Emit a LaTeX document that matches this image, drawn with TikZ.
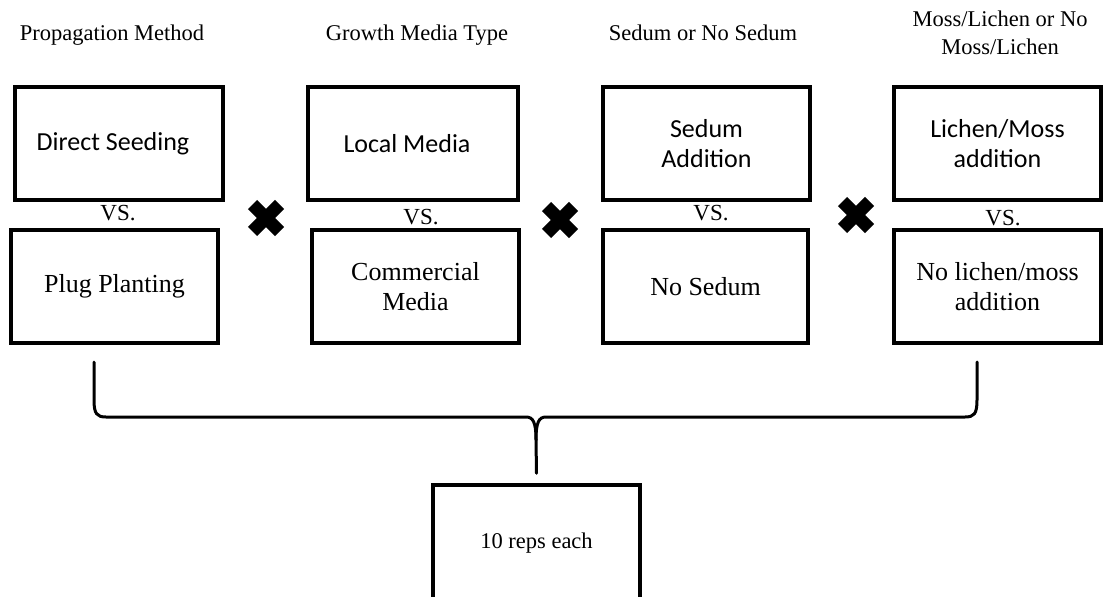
\documentclass[tikz,border=0pt]{standalone}
\usepackage{fontspec}
\setmainfont{Liberation Serif}
\newfontfamily\calibri{Carlito}

\tikzset{
  optbox/.style={draw, line width=3.5pt, minimum width=207pt, minimum height=113pt,
    align=center, inner sep=0pt},
  caltext/.style={font=\calibri\fontsize{26}{30}\selectfont},
  tmstext/.style={font=\fontsize{26}{30}\selectfont},
  title/.style={font=\fontsize{22.5}{28}\selectfont, align=center},
  vslabel/.style={font=\fontsize{23}{28}\selectfont, inner sep=0pt},
  bracket/.style={line width=3pt, line cap=round},
}

\begin{document}
\begin{tikzpicture}[x=1pt, y={(0pt,-1pt)}]
\useasboundingbox (0,0) rectangle (1103,597);

% Factor titles
\node[title, anchor=base] (prop) at (112,40) {Propagation Method};
\node[title, anchor=base] (media) at (417,40) {Growth Media Type};
\node[title, anchor=base] (sedum) at (703,40) {Sedum or No Sedum};
\node[title] (moss) at (1000,33) {Moss/Lichen or No\\Moss/Lichen};

% Upper option of each factor
\node[optbox, caltext, minimum width=208pt] (seed) at (119,143.5) {\hspace*{-12pt}Direct Seeding};
\node[optbox, caltext, minimum width=210pt] (local) at (413,143.5) {\hspace*{-12pt}Local Media};
\node[optbox, caltext] (sedadd) at (706.5,143.5) {Sedum\\Addition};
\node[optbox, caltext] (mossadd) at (997.5,143.5) {Lichen/Moss\\addition};

% Lower option of each factor
\node[optbox, tmstext] (plug) at (114.5,286.5) {Plug Planting};
\node[optbox, tmstext] (comm) at (415.5,286.5) {Commercial\\Media};
\node[optbox, tmstext, minimum width=205pt] (nosed) at (705.5,286.5) {No Sedum};
\node[optbox, tmstext] (nomoss) at (997.5,286.5) {No lichen/moss\\addition};

% vs. between the two options
\node[vslabel] (vs1) at (118,213) {VS.};
\node[vslabel] (vs2) at (421,217) {VS.};
\node[vslabel] (vs3) at (711,213) {VS.};
\node[vslabel] (vs4) at (1003,218) {VS.};

% Crosses between factors
\foreach \cx/\cy in {266/218, 560/220, 856/215} {
  \draw[line width=13pt] (\cx-13.5,\cy-13.5) -- (\cx+13.5,\cy+13.5);
  \draw[line width=13pt] (\cx-13.5,\cy+13.5) -- (\cx+13.5,\cy-13.5);
}

% Replicates box
\node[optbox, font=\fontsize{22.5}{28}\selectfont, minimum height=116pt] (reps) at (536.5,543) {10 reps each};

% Brace joining all treatments
\coordinate (bl) at (94,362);
\coordinate (br) at (977,362);
\coordinate (tip) at ([yshift=10pt]reps.north);
\draw[bracket] (bl) -- (94,400) .. controls (94,414) and (97,417) .. (106,417)
  -- (526,417) .. controls (533,417) and (536,422) .. (536,440) -- (tip);
\draw[bracket] (br) -- (977,400) .. controls (977,414) and (974,417) .. (965,417)
  -- (546,417) .. controls (539,417) and (536,422) .. (536,440);

\end{tikzpicture}
\end{document}
